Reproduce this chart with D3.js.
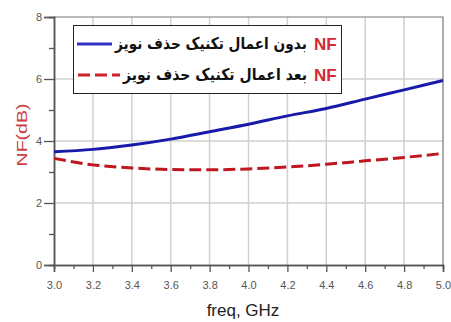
<!DOCTYPE html>
<html><head><meta charset="utf-8">
<script src="https://cdn.jsdelivr.net/npm/d3@7"></script>
<style>body{margin:0;background:#fff}svg{display:block}</style>
</head><body>
<svg id="c" width="451" height="322"></svg>
<script>
const freq = [3.0,3.2,3.4,3.6,3.8,4.0,4.2,4.4,4.6,4.8,5.0];
const nfWithout = [3.65,3.73,3.87,4.06,4.30,4.54,4.81,5.05,5.35,5.65,5.95];
const nfWith = [3.44,3.23,3.13,3.08,3.07,3.10,3.16,3.25,3.36,3.47,3.60];
const xMajor = [3.0,3.2,3.4,3.6,3.8,4.0,4.2,4.4,4.6,4.8,5.0];
const xMinor = [3.1,3.3,3.5,3.7,3.9,4.1,4.3,4.5,4.7,4.9];
const yMajor = [0,2,4,6,8];
const yMinor = [1,3,5,7];
const legendLabels = ["بدون اعمال تکنیک حذف نویز","بعد اعمال تکنیک حذف نویز"];

const svg = d3.select("#c");
const L=54,R=443,T=17,B=265;
const x = d3.scaleLinear().domain([3,5]).range([L,R]);
const y = d3.scaleLinear().domain([0,8]).range([B,T]);

// grid
svg.append("g").selectAll("line").data(xMajor.slice(1,-1)).join("line")
  .attr("x1",d=>x(d)).attr("x2",d=>x(d)).attr("y1",T).attr("y2",B)
  .attr("stroke","#d0d0d0").attr("stroke-width",1.5);
svg.append("g").selectAll("line").data(yMajor.slice(1,-1)).join("line")
  .attr("y1",d=>y(d)).attr("y2",d=>y(d)).attr("x1",L).attr("x2",R)
  .attr("stroke","#d0d0d0").attr("stroke-width",1.5);
// frame top/right
svg.append("path").attr("d",`M${L},${T}H${R}V${B}`).attr("fill","none").attr("stroke","#777").attr("stroke-width",1.2);

// axes
const ax = d3.axisBottom(x).tickValues(xMajor).tickSize(7).tickFormat(d3.format(".1f"));
const gx = svg.append("g").attr("transform",`translate(0,${B})`).call(ax);
const axm = d3.axisBottom(x).tickValues(xMinor).tickSize(4).tickFormat("");
const gxm = svg.append("g").attr("transform",`translate(0,${B})`).call(axm);
const ay = d3.axisLeft(y).tickValues(yMajor).tickSize(10).tickFormat(d3.format("d"));
const gy = svg.append("g").attr("transform",`translate(${L},0)`).call(ay);
const aym = d3.axisLeft(y).tickValues(yMinor).tickSize(5).tickFormat("");
const gym = svg.append("g").attr("transform",`translate(${L},0)`).call(aym);
[gx,gxm,gy,gym].forEach(g=>{
  g.select(".domain").attr("stroke","#555").attr("stroke-width",1.5);
  g.selectAll(".tick line").attr("stroke","#555").attr("stroke-width",1.3);
  g.selectAll("text").attr("fill","#555").style("font-family","Liberation Sans, Arial, sans-serif").style("font-size","11px");
});
gx.selectAll("text").attr("dy","1.25em");
gy.selectAll("text").attr("x",-12);

// lines
const line = (vals)=>d3.line().x((d,i)=>x(freq[i])).y(d=>y(d)).curve(d3.curveMonotoneX)(vals);
svg.append("path").attr("d",line(nfWithout)).attr("fill","none").attr("stroke","#1a1aaa").attr("stroke-width",3);
svg.append("path").attr("d",line(nfWith)).attr("fill","none").attr("stroke","#c0171f").attr("stroke-width",3).attr("stroke-dasharray","12,5");

// legend
svg.append("rect").attr("x",73.5).attr("y",25.5).attr("width",268).attr("height",68)
  .attr("fill","#fff").attr("stroke","#222").attr("stroke-width",1);
const rowsY=[44,75];
svg.append("line").attr("x1",77).attr("x2",112).attr("y1",rowsY[0]).attr("y2",rowsY[0]).attr("stroke","#3030c4").attr("stroke-width",3);
svg.append("line").attr("x1",78).attr("x2",120).attr("y1",rowsY[1]).attr("y2",rowsY[1]).attr("stroke","#d0202a").attr("stroke-width",3).attr("stroke-dasharray","12,5");
const textStart=[115,123];
const textW=[192,184];
legendLabels.forEach((t,i)=>{
  svg.append("text").attr("x",314).attr("y",rowsY[i]+6).attr("text-anchor","start")
    .style("font-family","Liberation Sans, Arial, sans-serif").style("font-weight","bold").style("font-size","17px")
    .attr("fill","#d42a35").text("NF");
  const tx = svg.append("text").attr("x",0).attr("y",0).attr("text-anchor","start")
    .style("font-family","DejaVu Sans, sans-serif").style("font-weight","bold").style("font-size","16px")
    .attr("fill","#111").text(t);
  const w = tx.node().getComputedTextLength() || textW[i];
  const sx = textW[i]/w;
  tx.attr("transform",`translate(${textStart[i]},${rowsY[i]+5}) scale(${sx},1)`);
});

// axis titles
svg.append("text").attr("x",243).attr("y",316).attr("text-anchor","middle")
  .style("font-family","Liberation Sans, Arial, sans-serif").style("font-size","17px").attr("fill","#222").text("freq, GHz");
const yl = svg.append("text").attr("text-anchor","middle")
  .style("font-family","Liberation Sans, Arial, sans-serif").style("font-size","15px").attr("fill","#c84040")
  .text("NF(dB)");
const yw = yl.node().getComputedTextLength() || 63;
yl.attr("transform",`translate(27,135) rotate(-90) scale(${63/yw},1)`);
</script>
</body></html>
